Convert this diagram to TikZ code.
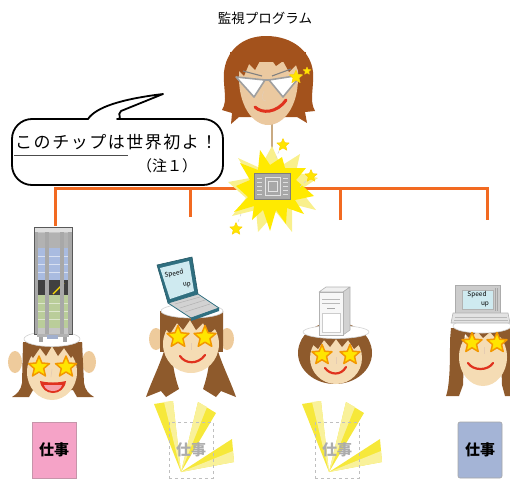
\documentclass[tikz,border=0pt]{standalone}
\usepackage{fontspec}
\setmainfont{Noto Sans CJK JP}
\usetikzlibrary{calc}

\definecolor{wireOrange}{HTML}{F26A21}
\definecolor{stemTan}{HTML}{C9AA82}
\definecolor{hairTop}{HTML}{A3521C}
\definecolor{hairBot}{HTML}{8E5A2C}
\definecolor{skinTop}{HTML}{EBC9A0}
\definecolor{skinBot}{HTML}{F5DCB4}
\definecolor{earSkin}{HTML}{EECB9C}
\definecolor{starY}{HTML}{FFE500}
\definecolor{starO}{HTML}{F39800}
\definecolor{mouthRed}{HTML}{E0321E}
\definecolor{tongue}{HTML}{F5A0A8}
\definecolor{burstY}{HTML}{FFEA00}
\definecolor{burstPale}{HTML}{F9F08C}
\definecolor{rayY}{HTML}{F6E83A}
\definecolor{rayPale}{HTML}{F9F19A}
\definecolor{pinkBox}{HTML}{F5A3C7}
\definecolor{blueBox}{HTML}{A4B4D6}
\definecolor{screenC}{HTML}{CFEAF0}
\definecolor{tealC}{HTML}{2F6F80}
\definecolor{rackBlue}{HTML}{A9BBE0}
\definecolor{rackGreen}{HTML}{BACD9A}
\definecolor{chipGray}{HTML}{A8A8A8}

\tikzset{
  wire/.style={draw=wireOrange, line width=3pt},
  band/.style={fill=white, draw=gray!35, line width=0.6pt},
  smile/.style={draw=mouthRed, line width=2.2pt, line cap=round},
  noseline/.style={draw=brown!40, line width=0.6pt},
  jobbox/.style={minimum width=44pt, minimum height=56pt, inner sep=0pt,
    font=\fontsize{15}{16}\selectfont\bfseries},
  tinytext/.style={font=\fontsize{6.5}{7}\selectfont, inner sep=0pt},
  pics/eyestar/.style={code={
    \path[fill=starY, draw=starO, line width=1.5pt, line join=round]
      (-90:1) -- (-54:0.45) -- (-18:1) -- (18:0.45) -- (54:1) -- (90:0.45)
      -- (126:1) -- (162:0.45) -- (198:1) -- (234:0.45) -- cycle;}},
  pics/sparkstar/.style={code={
    \path[fill=starY, draw=yellow!70!orange, line width=0.5pt, line join=round]
      (-90:1) -- (-54:0.45) -- (-18:1) -- (18:0.45) -- (54:1) -- (90:0.45)
      -- (126:1) -- (162:0.45) -- (198:1) -- (234:0.45) -- cycle;}},
  pics/rays/.style={code={
    \fill[rayY] (0,0) -- (-27,-68) -- (-8,-71) -- cycle;
    \fill[rayPale] (0,0) -- (-17,-70) -- (-8,-71) -- cycle;
    \fill[rayY] (0,0) -- (17,-70) -- (35,-59) -- cycle;
    \fill[rayPale] (0,0) -- (17,-70) -- (26,-65) -- cycle;
    \fill[rayY] (0,0) -- (51,-33) -- (53,-10) -- cycle;
    \fill[rayPale] (0,0) -- (52,-21) -- (53,-10) -- cycle;}},
}

\begin{document}
\begin{tikzpicture}[x=1pt, y=-1pt]
\useasboundingbox (0,0) rectangle (510,479);
\clip (0,0) rectangle (510,479);

% ---------- heading ----------
\node[font=\fontsize{13.5}{16}\selectfont] (title) at (265,18) {監視プログラム};

% ---------- wiring tree (behind the burst) ----------
\coordinate (hub) at (272,188);
\coordinate (rackTop) at (55,226);
\coordinate (lapEnd) at (190,217);
\coordinate (srvEnd) at (340,220);
\coordinate (pcEnd) at (487,220);
\draw[wire] (rackTop) |- (hub) -| (pcEnd);
\draw[wire] (lapEnd) -- (lapEnd |- hub);
\draw[wire] (srvEnd) -- (srvEnd |- hub);

% ---------- supervisor head ----------
\coordinate (boss) at (272,124);
\coordinate (chipTop) at (272,172);
\draw[stemTan, line width=2.5pt] (boss) -- (chipTop);

\fill[hairTop] (266,36) .. controls (293,36) and (311,52) .. (313,72)
  .. controls (314,90) and (309,100) .. (315,111) -- (305,112) -- (307,123)
  -- (297,117) -- (239,117) -- (231,124) -- (232,113) -- (222,110)
  .. controls (228,100) and (223,90) .. (224,72)
  .. controls (226,52) and (241,36) .. (266,36) -- cycle;
\fill[skinTop] (239,78) .. controls (239,106) and (253,125) .. (268,125)
  .. controls (284,125) and (298,106) .. (298,78) -- (298,62) -- (239,62) -- cycle;
\fill[hairTop] (233,86) -- (238,70) -- (244,76) -- (249,64) -- (255,70) -- (262,57)
  -- (269,56) -- (276,66) -- (283,61) -- (289,72) -- (296,65) -- (303,84)
  -- (306,52) -- (230,52) -- cycle;
\draw[gray, line width=1.1pt] (243,71) -- (262,76);
\draw[gray, line width=1.1pt] (272,76) -- (291,69);
\filldraw[fill=white, draw=gray!75, line width=1.6pt, line join=round]
  (236,77) -- (265,80) -- (254,97) -- cycle;
\filldraw[fill=white, draw=gray!75, line width=1.6pt, line join=round]
  (269,80) -- (301,75) -- (283,97) -- cycle;
\draw[gray!75, line width=1.6pt] (265,80) -- (269,80);
\draw[noseline] (264,91) .. controls (261,96) and (262,101) .. (266,101);
\draw[mouthRed, line width=3pt, line cap=round]
  (255,107) .. controls (262,114) and (277,113) .. (286,100);
\pic[scale=7] at (296,77) {sparkstar};
\pic[scale=4] at (307,71) {sparkstar};

% ---------- chip burst ----------
\fill[burstPale] (272,146) -- (281,166) -- (300,154) -- (296,172) -- (318,178)
  -- (300,190) -- (316,210) -- (292,204) -- (292,232) -- (276,212) -- (258,232)
  -- (256,210) -- (232,216) -- (246,198) -- (228,182) -- (250,178) -- (238,158)
  -- (260,168) -- cycle;
\fill[burstY] (260,150) -- (270,165) -- (282,157) -- (285,168) -- (306,168)
  -- (296,180) -- (314,196) -- (295,200) -- (304,214) -- (287,208) -- (286,224)
  -- (276,210) -- (270,231) -- (263,210) -- (252,220) -- (254,206) -- (234,212)
  -- (248,197) -- (236,186) -- (250,180) -- (240,163) -- (258,170) -- cycle;
\node[fill=chipGray, draw=chipGray!75!black, line width=0.6pt,
  minimum width=36pt, minimum height=26pt, inner sep=0pt] (chip) at (272,186) {};
\draw[gray!20, line width=0.5pt] (265,177) rectangle (280,195);
\draw[gray!20, line width=0.5pt] (268,181) rectangle (277,191);
\foreach \yy in {178,182,186,190,194} {
  \draw[gray!25, line width=1pt] (257,\yy) -- (262,\yy);
  \draw[gray!25, line width=1pt] (283,\yy) -- (288,\yy);
}
\pic[scale=6.5] at (283,145) {sparkstar};
\pic[scale=6.5] at (311,176) {sparkstar};
\pic[scale=6.5] at (236,229) {sparkstar};
\draw[gray!35, line width=0.5pt, dashed] (279,151) -- (276,158);
\draw[gray!35, line width=0.5pt, dashed] (306,181) -- (300,187);
\draw[gray!35, line width=0.5pt, dashed] (238,222) -- (241,214);

% ---------- speech bubble ----------
\draw[fill=white, line width=1.8pt, line join=round]
  (88,119) [rounded corners=20pt] -- (12,119) -- (12,185) -- (223,185)
  -- (223,119) -- (137,119) [sharp corners]
  .. controls (124,119) and (116,115) .. (121,111) -- (163,94)
  .. controls (122,99) and (96,107) .. (88,119) -- cycle;
\node[anchor=west, inner sep=0pt,
  font=\fontsize{17}{18}\selectfont\addfontfeatures{LetterSpace=9}]
  (remark) at (15,142) {このチップは世界初よ！};
\draw[gray!60!black, line width=0.8pt] (14,155) -- (128,155);
\node[font=\fontsize{15}{16}\selectfont, inner sep=0pt] (note) at (167,166) {（注１）};

% ---------- head 1 : rack ----------
\fill[earSkin] (15,362) ellipse [x radius=7, y radius=11];
\fill[earSkin] (89,362) ellipse [x radius=7, y radius=11];
\fill[hairBot] (23,343) -- (82,343) -- (84,383) .. controls (85,390) and (89,394) .. (94,397)
  -- (77,397) -- (73,390) -- (33,390) -- (29,397) -- (12,397)
  .. controls (17,394) and (21,390) .. (22,383) -- cycle;
\fill[skinBot] (52,372) ellipse [x radius=25, y radius=28];
\fill[hairBot] (23,342) -- (82,342) -- (82,364) -- (76,352) -- (71,358) -- (64,348)
  -- (58,356) -- (52,346) -- (46,356) -- (40,348) -- (33,358) -- (28,352) -- (23,364) -- cycle;
\path[band] (52,339) ellipse [x radius=28, y radius=7.5];
\pic[scale=11] at (39,367) {eyestar};
\pic[scale=11] at (66,367) {eyestar};
\draw[noseline] (52,369) -- (51,377);
\fill[mouthRed] (40,381) .. controls (42,397) and (64,397) .. (66,381)
  .. controls (58,383) and (48,383) .. (40,381) -- cycle;
\fill[tongue] (44,385) .. controls (46,393) and (60,393) .. (62,385) -- cycle;
% rack cabinet
\fill[gray!45] (34,227) rectangle (72,334);
\fill[gray!60] (38,233) rectangle (68,248);
\fill[rackBlue] (38,248) rectangle (68,280);
\fill[black!75] (38,280) rectangle (68,295);
\fill[rackGreen] (38,295) rectangle (68,328);
\foreach \yy in {256,264,272} \draw[white!55!rackBlue, line width=0.6pt] (38,\yy) -- (68,\yy);
\foreach \yy in {303,311,319} \draw[white!50!rackGreen, line width=0.6pt] (38,\yy) -- (68,\yy);
\draw[yellow!80!orange, line width=1.3pt] (53,294) -- (64,283);
\foreach \xx in {34,45,60,68} \fill[gray!68] (\xx,227) rectangle ++(4,107);
\fill[gray!25] (34,227) rectangle (72,232);
\draw[gray!70!black, line width=0.5pt] (34,227) rectangle (72,334);
\fill[gray!60] (37,334) rectangle (69,337);
\fill[gray!72] (39,337) rectangle (43,342);
\fill[gray!72] (63,337) rectangle (67,342);
\fill[rackBlue!80!gray] (47,335) rectangle (58,339);

% ---------- head 2 : laptop ----------
\fill[earSkin] (156,339) ellipse [x radius=7, y radius=11];
\fill[earSkin] (227,339) ellipse [x radius=7, y radius=11];
\fill[hairBot] (160,313) rectangle (223,352);
\fill[hairBot] (166,345) .. controls (160,365) and (152,380) .. (146,397) -- (161,391)
  -- (166,397) -- (179,389) .. controls (174,375) and (172,360) .. (172,350) -- cycle;
\fill[hairBot] (216,345) .. controls (222,365) and (230,380) .. (236,397) -- (221,391)
  -- (216,397) -- (203,389) .. controls (208,375) and (210,360) .. (210,350) -- cycle;
\fill[skinBot] (191,344) ellipse [x radius=28, y radius=29];
\fill[hairBot] (160,311) -- (223,311) -- (223,346) -- (216,328) -- (209,334) -- (203,323)
  -- (196,330) -- (190,320) -- (183,330) -- (177,323) -- (170,334) -- (165,328)
  -- (160,346) -- cycle;
\path[band] (192,311) ellipse [x radius=31, y radius=7];
\pic[scale=11.5] at (178,337) {eyestar};
\pic[scale=11.5] at (205,337) {eyestar};
\draw[noseline] (191,343) -- (191,350);
\draw[smile] (180,356) .. controls (185,364) and (198,365) .. (205,355);
% laptop
\filldraw[fill=tealC, draw=tealC!80!black, line width=0.6pt, line join=round]
  (157,265) -- (192,257) -- (198,294) -- (168,303) -- cycle;
\fill[screenC] (160,268) -- (189,261) -- (194,291) -- (170,299) -- cycle;
\node[tinytext, rotate=12] (lapA) at (174,274) {Speed};
\node[tinytext, rotate=12] (lapB) at (187,285) {up};
\filldraw[fill=gray!35, draw=tealC, line width=0.8pt, line join=round]
  (168,303) -- (198,294) -- (219,308) -- (191,318) -- cycle;
\fill[tealC] (191,318) -- (219,308) -- (219,311) -- (191,321) -- cycle;
\draw[gray!60, line width=0.5pt] (175,304) -- (200,297);
\draw[gray!60, line width=0.5pt] (180,308) -- (205,300);
\draw[gray!60, line width=0.5pt] (185,312) -- (210,304);

% ---------- head 3 : server ----------
\fill[hairBot] (335,353) ellipse [x radius=37, y radius=31];
\fill[skinBot] (336,358) ellipse [x radius=26, y radius=26];
\begin{scope}
  \clip (335,353) ellipse [x radius=37, y radius=31];
  \fill[hairBot] (300,330) -- (370,330) -- (368,354) -- (361,343) -- (354,349) -- (348,340)
    -- (342,347) -- (336,339) -- (330,347) -- (324,340) -- (318,349) -- (311,343)
    -- (304,354) -- cycle;
\end{scope}
\path[band] (336,332) ellipse [x radius=33, y radius=6.5];
\pic[scale=10.5] at (322,355) {eyestar};
\pic[scale=10.5] at (350,355) {eyestar};
\draw[noseline] (336,357) -- (336,364);
\draw[smile] (325,368) .. controls (330,375) and (341,376) .. (346,367);
% server tower
\filldraw[fill=gray!12, draw=gray!60, line width=0.6pt, line join=round]
  (319,292) -- (326,287) -- (350,287) -- (343,292) -- cycle;
\filldraw[fill=gray!35, draw=gray!60, line width=0.6pt, line join=round]
  (343,292) -- (350,287) -- (350,330) -- (343,335) -- cycle;
\filldraw[fill=gray!6, draw=gray!60, line width=0.6pt] (319,292) rectangle (343,335);
\draw[gray!55, line width=0.6pt] (322,299) -- (340,299);
\draw[gray!55, line width=0.6pt] (322,303) -- (340,303);
\draw[gray!70, line width=0.8pt] (327,308) -- (335,308);
\filldraw[fill=white, draw=gray!40, line width=0.5pt] (322,313) rectangle (340,332);

% ---------- head 4 : desktop ----------
\fill[hairBot] (451,328) -- (465,328) -- (463,385) -- (459,396) -- (446,396)
  .. controls (450,385) and (450,360) .. (450,340) -- cycle;
\fill[hairBot] (500,328) -- (514,328) -- (516,396) -- (505,396) -- (502,385) -- cycle;
\fill[skinBot] (483,357) ellipse [x radius=24, y radius=29];
\fill[hairBot] (455,325) -- (510,325) -- (509,346) -- (503,335) -- (497,340) -- (490,332)
  -- (483,338) -- (477,331) -- (470,339) -- (464,333) -- (458,346) -- cycle;
\path[band] (482,326) ellipse [x radius=29, y radius=7];
\pic[scale=10.5] at (472,343) {eyestar};
\pic[scale=10.5] at (497,343) {eyestar};
\draw[noseline] (484,347) -- (484,354);
\draw[smile] (468,363) .. controls (473,371) and (488,371) .. (493,363);
% desktop computer
\filldraw[fill=gray!40, draw=gray!65, line width=0.6pt] (455,285) rectangle (500,313);
\filldraw[fill=screenC, draw=gray!60, line width=0.5pt] (462,290) rectangle (493,309);
\draw[gray!70, line width=0.5pt] (495,288) -- (495,311);
\draw[gray!70, line width=0.5pt] (497,288) -- (497,311);
\node[tinytext] (pcA) at (477,295) {Speed};
\node[tinytext] (pcB) at (485,304) {up};
\filldraw[fill=gray!22, draw=gray!60, line width=0.6pt, line join=round]
  (453,313) -- (508,313) -- (510,323) -- (451,323) -- cycle;
\draw[gray!55, line width=0.5pt] (455,317) -- (507,317);
\draw[gray!55, line width=0.5pt] (454,320) -- (508,320);

% ---------- job cards ----------
\pic at (181,472) {rays};
\pic at (329,472) {rays};
\node[jobbox, fill=pinkBox, draw=pinkBox!60!gray, line width=0.6pt] (job1) at (54,450) {仕事};
\node[jobbox, draw=gray!50, dashed, line width=0.5pt, text=gray!65] (job2) at (191,450) {仕事};
\node[jobbox, draw=gray!50, dashed, line width=0.5pt, text=gray!65] (job3) at (337,450) {仕事};
\node[jobbox, fill=blueBox, draw=gray!70, rounded corners=2pt, line width=0.6pt] (job4) at (480,450) {仕事};
\end{tikzpicture}
\end{document}
